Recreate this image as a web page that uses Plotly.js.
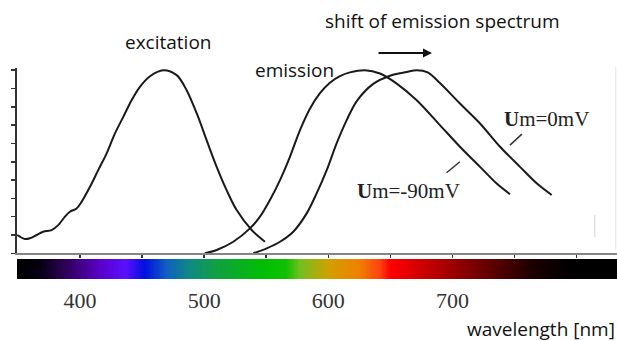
<!DOCTYPE html>
<html>
<head>
<meta charset="utf-8">
<script src="https://cdn.plot.ly/plotly-3.0.1.min.js"></script>
<style>html,body{margin:0;padding:0;background:#fff;}#chart{width:617px;height:341px;}</style>
</head>
<body>
<div id="chart"></div>
<script>
// Excitation spectrum (wavelength nm, normalized intensity)
const excWavelength = [349.5,355.7,359.7,365.1,370.4,377.2,382.5,387.9,391.9,397.3,401.4,408.1,414.7,421.5,428.2,434.9,441.6,448.3,456.4,467.1,477.9,485.9,494.0,502.0,510.1,518.1,526.2,538.3,549.0];
const excIntensity  = [0.100,0.078,0.082,0.100,0.118,0.127,0.154,0.200,0.227,0.245,0.282,0.363,0.454,0.546,0.655,0.745,0.836,0.909,0.967,1.000,0.973,0.891,0.765,0.618,0.472,0.345,0.236,0.127,0.063];

// Emission spectrum at Um = -90 mV
const em90Wavelength = [500.7,510.1,523.5,536.9,545.0,553.0,561.1,569.1,577.2,585.2,593.3,601.3,609.4,617.4,629.5,641.6,655.1,671.2,689.9,706.0,722.2,735.6,746.3];
const em90Intensity  = [0.000,0.018,0.063,0.136,0.200,0.291,0.400,0.527,0.673,0.790,0.875,0.932,0.968,0.988,1.000,0.982,0.927,0.836,0.700,0.582,0.472,0.381,0.323];

// Emission spectrum at Um = 0 mV
const em0Wavelength = [539.6,550.4,561.1,571.8,582.6,590.6,598.7,606.7,614.8,622.8,636.2,649.7,663.1,671.2,680.0,689.9,706.0,722.2,738.3,754.4,767.8,779.9];
const em0Intensity  = [0.000,0.027,0.063,0.118,0.218,0.327,0.454,0.600,0.727,0.830,0.925,0.970,0.990,1.000,0.988,0.930,0.818,0.709,0.582,0.472,0.382,0.318];

// Axis ticks
const xTickMarks = [400,450,500,550,600,650,700,750,800];
const yTickMarks = [0,0.1,0.2,0.3,0.4,0.5,0.6,0.7,0.8,0.9,1.0];
const xTickLabelVals = [400,500,600,700];
const xTickLabelText = ['400','500','600','700'];

// Visible spectrum colour strip (wavelength stops and colours)
const spectrumNm = [349,368,389,416,437,452,470,489,510,550,566,577,600,625,642,650,658,698,738,762,795,833];
const spectrumColors = ['#000000','#060012','#30005a','#5a00c8','#5a10ff','#0010e0','#1060c0','#108a80','#10a040','#00c000','#10c000','#70c020','#d0a000','#f08000','#ff4010','#ff0000','#f00000','#a00000','#500000','#200000','#000000','#000000'];

const zMin = spectrumNm[0], zMax = spectrumNm[spectrumNm.length-1];
const colorscale = spectrumNm.map((v,i)=>[(v-zMin)/(zMax-zMin), spectrumColors[i]]);
const stripX = [];
for (let w = zMin; w <= zMax; w += 1) stripX.push(w);

const lineStyle = {color:'#1a1a1a', width:2, shape:'spline', smoothing:0.9};

const traces = [
  {type:'heatmap', x:stripX, y:[0], z:[stripX], xaxis:'x2', yaxis:'y2', colorscale:colorscale, zmin:zMin, zmax:zMax, showscale:false, hoverinfo:'skip'},
  {type:'scatter', mode:'lines', x:excWavelength, y:excIntensity, line:lineStyle, name:'excitation'},
  {type:'scatter', mode:'lines', x:em90Wavelength, y:em90Intensity, line:lineStyle, name:'Um=-90mV'},
  {type:'scatter', mode:'lines', x:em0Wavelength, y:em0Intensity, line:lineStyle, name:'Um=0mV'}
];

const xRange = [349.3, 832.5];
const sansFont = {family:'Open Sans, Noto Sans, sans-serif', size:19, color:'#111'};
const serifFont = {family:'Liberation Serif, Times New Roman, serif', size:21, color:'#222'};

const layout = {
  width:617, height:341,
  margin:{l:17, r:0, t:68, b:62, pad:0},
  paper_bgcolor:'#ffffff', plot_bgcolor:'#ffffff',
  showlegend:false,
  font:{family:'Open Sans, sans-serif'},
  xaxis:{range:xRange, anchor:'y', showline:true, linecolor:'#858585', linewidth:2,
         ticks:'outside', tickmode:'array', tickvals:xTickMarks, ticklen:3, tickwidth:1.5, tickcolor:'#333',
         showticklabels:false, showgrid:false, zeroline:false, fixedrange:true},
  yaxis:{range:[0,1.012], domain:[0.1218,1], anchor:'x', showline:true, linecolor:'#333', linewidth:2,
         ticks:'outside', tickmode:'array', tickvals:yTickMarks, ticklen:4, tickwidth:1.5, tickcolor:'#333',
         showticklabels:false, showgrid:false, zeroline:false, fixedrange:true},
  xaxis2:{range:xRange, anchor:'y2', showline:false, ticks:'', tickmode:'array', tickvals:xTickLabelVals, ticktext:xTickLabelText,
          tickfont:{family:'Liberation Serif, Times New Roman, serif', size:22, color:'#333'},
          ticklabelstandoff:6, showgrid:false, zeroline:false, fixedrange:true},
  yaxis2:{range:[-0.5,0.5], domain:[0,0.0948], anchor:'x2', visible:false, fixedrange:true},
  annotations:[
    {xref:'paper', yref:'paper', x:0.2522, y:1.1209, text:'excitation', showarrow:false, font:sansFont, xanchor:'center', yanchor:'middle'},
    {xref:'paper', yref:'paper', x:0.4633, y:0.9882, text:'emission', showarrow:false, font:sansFont, xanchor:'center', yanchor:'middle'},
    {xref:'paper', yref:'paper', x:0.7092, y:1.2204, text:'shift of emission spectrum', showarrow:false, font:sansFont, xanchor:'center', yanchor:'middle'},
    {xref:'paper', yref:'paper', x:0.6917, y:1.0711, ax:-55, ay:0, text:'', showarrow:true, arrowhead:2, arrowsize:1, arrowwidth:1.8, arrowcolor:'#111'},
    {xref:'x', yref:'y', x:776.1, y:0.733, text:'<b>U</b>m=0mV', showarrow:false, font:serifFont, xanchor:'center', yanchor:'middle'},
    {xref:'x', yref:'y', x:664.2, y:0.340, text:'<b>U</b>m=-90mV', showarrow:false, font:serifFont, xanchor:'center', yanchor:'middle'},
    {xref:'paper', yref:'paper', x:1, y:-0.238, text:'wavelength [nm]', showarrow:false, font:sansFont, xanchor:'right', yanchor:'middle'}
  ],
  shapes:[
    {type:'line', xref:'x', yref:'y', x0:746.3, y0:0.591, x1:755.9, y1:0.651, line:{color:'#333', width:1.5}},
    {type:'line', xref:'x', yref:'y', x0:695.2, y0:0.440, x1:706.0, y1:0.500, line:{color:'#333', width:1.5}},
    {type:'line', xref:'paper', yref:'paper', x0:0.998, y0:1.005, x1:0.998, y1:0.139, line:{color:'#e4e4e4', width:1}},
    {type:'line', xref:'paper', yref:'paper', x0:0.963, y0:0.303, x1:0.963, y1:0.199, line:{color:'#d4d4d4', width:1}}
  ]
};

Plotly.newPlot('chart', traces, layout, {displayModeBar:false, staticPlot:true});
</script>
</body>
</html>
